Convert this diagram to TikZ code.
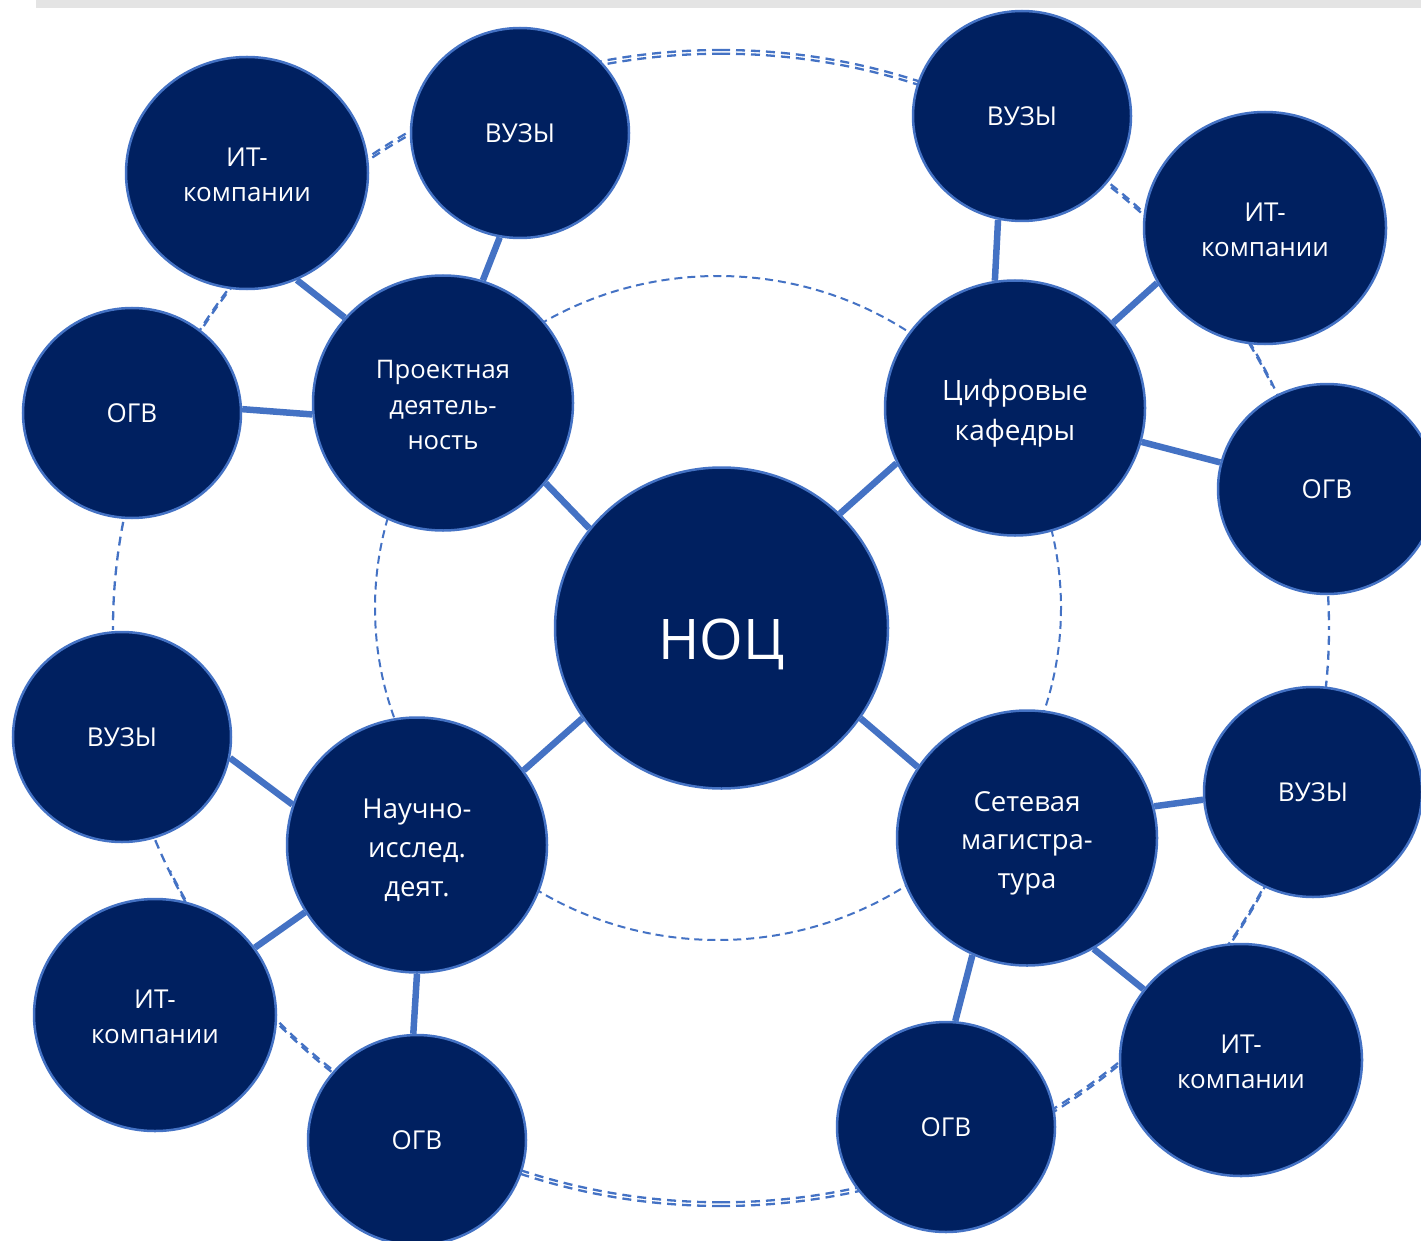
\documentclass[tikz,border=0pt]{standalone}
\usepackage{fontspec}
\setmainfont{Open Sans}
\usetikzlibrary{shapes.geometric}
\definecolor{navy}{HTML}{002060}
\definecolor{accent}{HTML}{4472C4}
\definecolor{barg}{HTML}{E4E4E4}
\newcommand{\tallfirst}[1]{\rule{0pt}{#1}}
\tikzset{
  bub/.style={ellipse, draw=accent, line width=2.5pt, fill=navy, text=white, inner sep=0pt, align=center},
  hubnode/.style={bub, minimum width=260pt, minimum height=255pt, font=\fontsize{27.5}{38.5}\selectfont},
  leafnode/.style={bub, minimum width=218pt, minimum height=210pt, font=\fontsize{26}{35}\selectfont},
  itnode/.style={bub, minimum width=242pt, minimum height=232pt, font=\fontsize{26}{35}\selectfont},
  corenode/.style={bub, minimum width=333pt, minimum height=321pt, font=\fontsize{56}{60}\selectfont},
  link/.style={draw=accent, line width=6.5pt},
  outerring/.style={draw=accent, line width=2.3pt, dash pattern=on 9pt off 6pt},
  innerring/.style={draw=accent, line width=2pt, dash pattern=on 8pt off 5pt},
}
\begin{document}
\begin{tikzpicture}[x=1pt,y=-1pt]
\useasboundingbox (0,0) rectangle (1421,1241);
\clip (0,0) rectangle (1421,1241);
% top grey bar
\fill[barg] (36,0) rectangle (1421,8);
% outer ring (single at the sides, double at top and bottom)
\draw[outerring] (721,50) arc[start angle=270, end angle=180, x radius=608, y radius=578];
\draw[outerring] (721,50) arc[start angle=270, end angle=360, x radius=608, y radius=578];
\draw[outerring] (721,1206) arc[start angle=90, end angle=180, x radius=608, y radius=578];
\draw[outerring] (721,1206) arc[start angle=90, end angle=0, x radius=608, y radius=578];
\draw[outerring] (721,53.7) arc[start angle=270, end angle=205, x radius=608, y radius=574.3];
\draw[outerring] (721,53.7) arc[start angle=270, end angle=335, x radius=608, y radius=574.3];
\draw[outerring] (721,1202.3) arc[start angle=90, end angle=155, x radius=608, y radius=574.3];
\draw[outerring] (721,1202.3) arc[start angle=90, end angle=25, x radius=608, y radius=574.3];
% inner ring
\draw[innerring] (718,608) ellipse [x radius=343, y radius=332];
% core
\node[corenode] (n) at (721.5,628) {\raisebox{-31pt}[0pt][0pt]{НОЦ}};
% hubs
\node[hubnode, font=\fontsize{25.6}{35.5}\selectfont] (p) at (443,403) {\tallfirst{22.5pt}Проектная\\деятель-\\ность};
\node[hubnode, font=\fontsize{28}{40}\selectfont] (c) at (1015,408) {\tallfirst{31pt}Цифровые\\кафедры};
\node[hubnode, font=\fontsize{27.5}{39}\selectfont] (r) at (417,845) {\tallfirst{30pt}Научно-\\исслед.\\деят.};
\node[hubnode] (s) at (1027,838) {\tallfirst{30pt}Сетевая\\магистра-\\тура};
% leaves
\node[itnode] (pi) at (247,173) {\tallfirst{22.5pt}ИТ-\\компании};
\node[leafnode] (pv) at (520,133) {ВУЗЫ};
\node[leafnode] (po) at (132,413) {ОГВ};
\node[leafnode] (cv) at (1022,116) {ВУЗЫ};
\node[itnode] (ci) at (1265,228) {\tallfirst{22.5pt}ИТ-\\компании};
\node[leafnode] (co) at (1327,489) {ОГВ};
\node[leafnode] (rv) at (122,737) {ВУЗЫ};
\node[itnode] (ri) at (155,1015) {\tallfirst{22.5pt}ИТ-\\компании};
\node[leafnode] (ro) at (417,1140) {ОГВ};
\node[leafnode] (sv) at (1313,792) {ВУЗЫ};
\node[itnode] (si) at (1241,1060) {\tallfirst{22.5pt}ИТ-\\компании};
\node[leafnode] (so) at (946,1127) {ОГВ};
% connectors
\draw[link] (p.322) -- (n.143);
\draw[link] (c.205) -- (n.44);
\draw[link] (r.35) -- (n.213);
\draw[link] (s.147) -- (n.327);
\draw[link] (p.72) -- (pv.259);
\draw[link] (p.139) -- (pi.295);
\draw[link] (p.185) -- (po.2);
\draw[link] (c.99) -- (cv.257);
\draw[link] (c.41) -- (ci.207);
\draw[link] (c.345) -- (co.166);
\draw[link] (r.162) -- (rv.349);
\draw[link] (r.211) -- (ri.34);
\draw[link] (r.270) -- (ro.92);
\draw[link] (s.14) -- (sv.184);
\draw[link] (s.301) -- (si.144);
\draw[link] (s.245) -- (so.85);
\end{tikzpicture}
\end{document}
